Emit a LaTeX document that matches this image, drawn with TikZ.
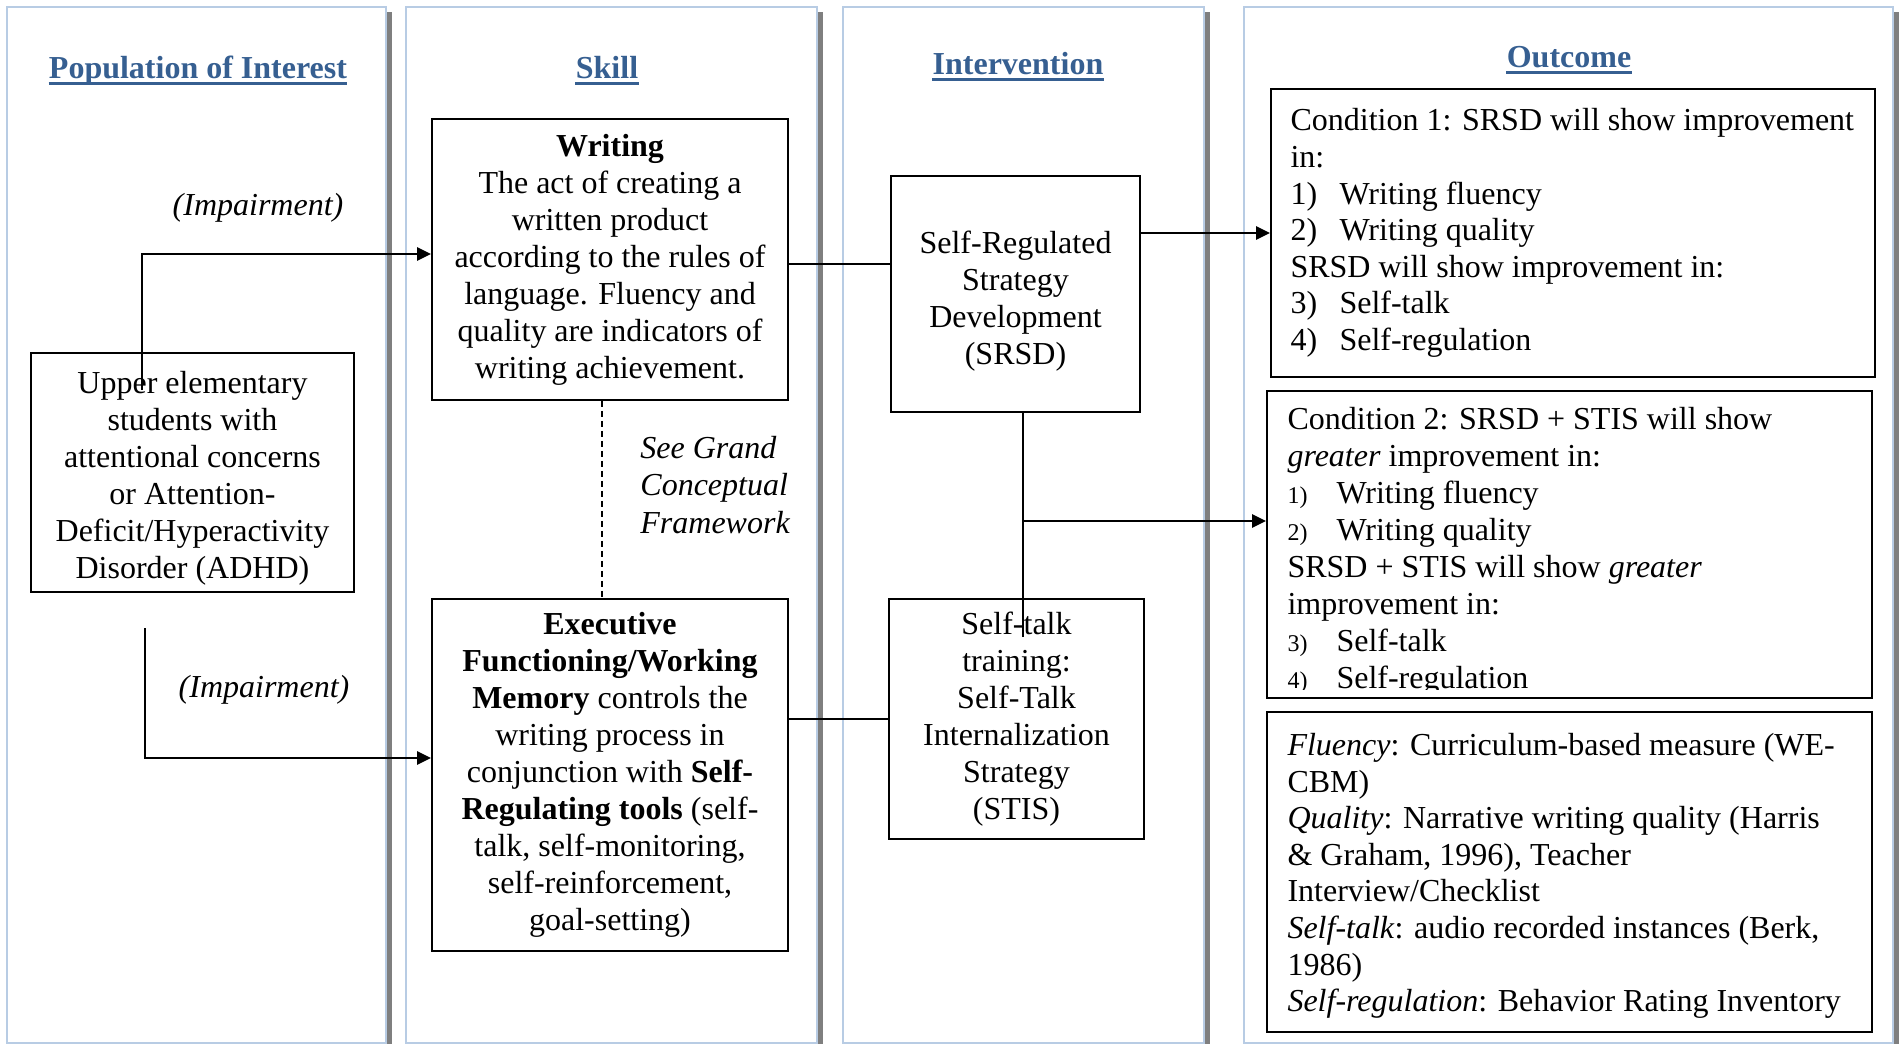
\documentclass[tikz,border=0pt]{standalone}
\usepackage{fontspec}
\setmainfont{Liberation Serif}
\usetikzlibrary{arrows.meta}
\definecolor{headblue}{HTML}{365F91}
\definecolor{panelblue}{HTML}{B8CCE4}
\definecolor{shadowgray}{HTML}{7F7F7F}
\begin{document}
\begin{tikzpicture}[x=0.5pt,y=-0.5pt,
  box/.style={draw,line width=0.9pt,inner sep=0pt,align=center,font=\fontsize{16}{18.5}\selectfont},
  obox/.style={draw,line width=0.9pt,inner sep=0pt},
  otext/.style={inner sep=0pt,align=left,font=\fontsize{16}{18.3}\selectfont},
  head/.style={inner sep=0pt,text=headblue,font=\fontsize{16}{18.5}\selectfont\bfseries},
  lbl/.style={inner sep=0pt,font=\fontsize{16}{18.6}\selectfont\itshape},
  arr/.style={line width=1.2pt,-{Triangle[length=7pt,width=6.5pt]}},
  conn/.style={line width=0.8pt}]
\useasboundingbox (0,0) rectangle (1899,1044);
% panels
\foreach \l/\r in {7/386,406/817,843/1204,1244/1893} {
  \fill[shadowgray] (\r+1,12) rectangle (\r+6,1044);
  \draw[panelblue,line width=1.2pt] (\l,7) rectangle (\r,1043);
}
% headings
\node[head,anchor=base] (h1) at (198,78) {Population of Interest};
\node[head,anchor=base] (h2) at (607,78) {Skill};
\node[head,anchor=base] (h3) at (1018,74) {Intervention};
\node[head,anchor=base] (h4) at (1569,67) {Outcome};
\foreach \h in {h1,h2,h3,h4}
  \draw[headblue,line width=1.3pt] ([yshift=-2.75pt]\h.base west) -- ([yshift=-2.75pt]\h.base east);
% boxes
\node[box,minimum width=161.5pt,minimum height=119.5pt] (pop) at (192.5,472.5)
  {\rule{0pt}{17pt}Upper elementary\\students with\\attentional concerns\\or Attention-\\Deficit/Hyperactivity\\Disorder (ADHD)};
\node[box,minimum width=178pt,minimum height=140.5pt] (writing) at (610,259.5)
  {\textbf{Writing}\\The act of creating a\\written product\\according to the rules of\\language. Fluency and\\quality are indicators of\\writing achievement.};
\node[box,minimum width=178pt,minimum height=176pt] (exec) at (610,775)
  {\textbf{Executive}\\\textbf{Functioning/Working}\\\textbf{Memory} controls the\\writing process in\\conjunction with \textbf{Self-}\\\textbf{Regulating tools} (self-\\talk, self-monitoring,\\self-reinforcement,\\goal-setting)};
\node[box,minimum width=124.5pt,minimum height=118pt] (srsd) at (1015.5,294)
  {\rule{0pt}{18pt}Self-Regulated\\Strategy\\Development\\(SRSD)};
\node[box,minimum width=127.5pt,minimum height=120pt] (stis) at (1016.5,719)
  {Self-talk\\training:\\Self-Talk\\Internalization\\Strategy\\(STIS)};
% outcome boxes
\node[obox,minimum width=302pt,minimum height=144pt] (cond1) at (1573,233) {};
\node[otext,anchor=west] (c1t) at ([xshift=10pt]cond1.west)
  {Condition 1: SRSD will show improvement\\
   in:\\
   \makebox[24.5pt][l]{1)}Writing fluency\\
   \makebox[24.5pt][l]{2)}Writing quality\\
   SRSD will show improvement in:\\
   \makebox[24.5pt][l]{3)}Self-talk\\
   \makebox[24.5pt][l]{4)}Self-regulation};
\node[obox,minimum width=302.5pt,minimum height=153.5pt] (cond2) at (1569.5,544.5) {};
\begin{scope}
  \clip (cond2.north west) rectangle ([yshift=4.5pt]cond2.south east);
  \node[otext,anchor=west,font=\fontsize{16}{18.55}\selectfont] (c2t) at ([xshift=10.5pt,yshift=-3.4pt]cond2.west)
  {Condition 2: SRSD + STIS will show\\
   \textit{greater} improvement in:\\
   \makebox[24.5pt][l]{\fontsize{12}{14}\selectfont 1)}Writing fluency\\
   \makebox[24.5pt][l]{\fontsize{12}{14}\selectfont 2)}Writing quality\\
   SRSD + STIS will show \textit{greater}\\
   improvement in:\\
   \makebox[24.5pt][l]{\fontsize{12}{14}\selectfont 3)}Self-talk\\
   \makebox[24.5pt][l]{\fontsize{12}{14}\selectfont 4)}Self-regulation};
\end{scope}
\node[obox,minimum width=302.5pt,minimum height=160pt] (meas) at (1569.5,872) {};
\node[otext,anchor=west] (mt) at ([xshift=10.5pt,yshift=-2pt]meas.west)
  {\textit{Fluency}: Curriculum-based measure (WE-\\
   CBM)\\
   \textit{Quality}: Narrative writing quality (Harris\\
   \& Graham, 1996), Teacher\\
   Interview/Checklist\\
   \textit{Self-talk}: audio recorded instances (Berk,\\
   1986)\\
   \textit{Self-regulation}: Behavior Rating Inventory};
% labels
\node[lbl,anchor=base] (imp1) at (258,215) {(Impairment)};
\node[lbl,anchor=base] (imp2) at (264,697) {(Impairment)};
\node[lbl,anchor=west,align=left] (see) at (640,485) {See Grand\\Conceptual\\Framework};
% connectors
\coordinate (a1s) at (142,390);
\draw[arr] (a1s) |- ([yshift=2.75pt]writing.west);
\coordinate (a2s) at (145,628);
\draw[arr] (a2s) |- ([yshift=8.5pt]exec.west);
\draw[conn] ([yshift=-2.25pt]writing.east) -- ([yshift=-2.25pt]writing.east -| srsd.west);
\draw[conn] (stis.west -| exec.east) -- (stis.west);
\draw[arr] (srsd.east |- cond1.west) -- (cond1.west);
\coordinate (vend) at (1023,637);
\coordinate (junc) at (1023,521);
\draw[conn] (srsd.south -| vend) -- (vend);
\draw[arr] (junc) -- (junc -| cond2.west);
\draw[conn,dash pattern=on 3pt off 2pt] ([xshift=-4pt]writing.south) -- ([xshift=-4pt]exec.north);
\end{tikzpicture}
\end{document}
